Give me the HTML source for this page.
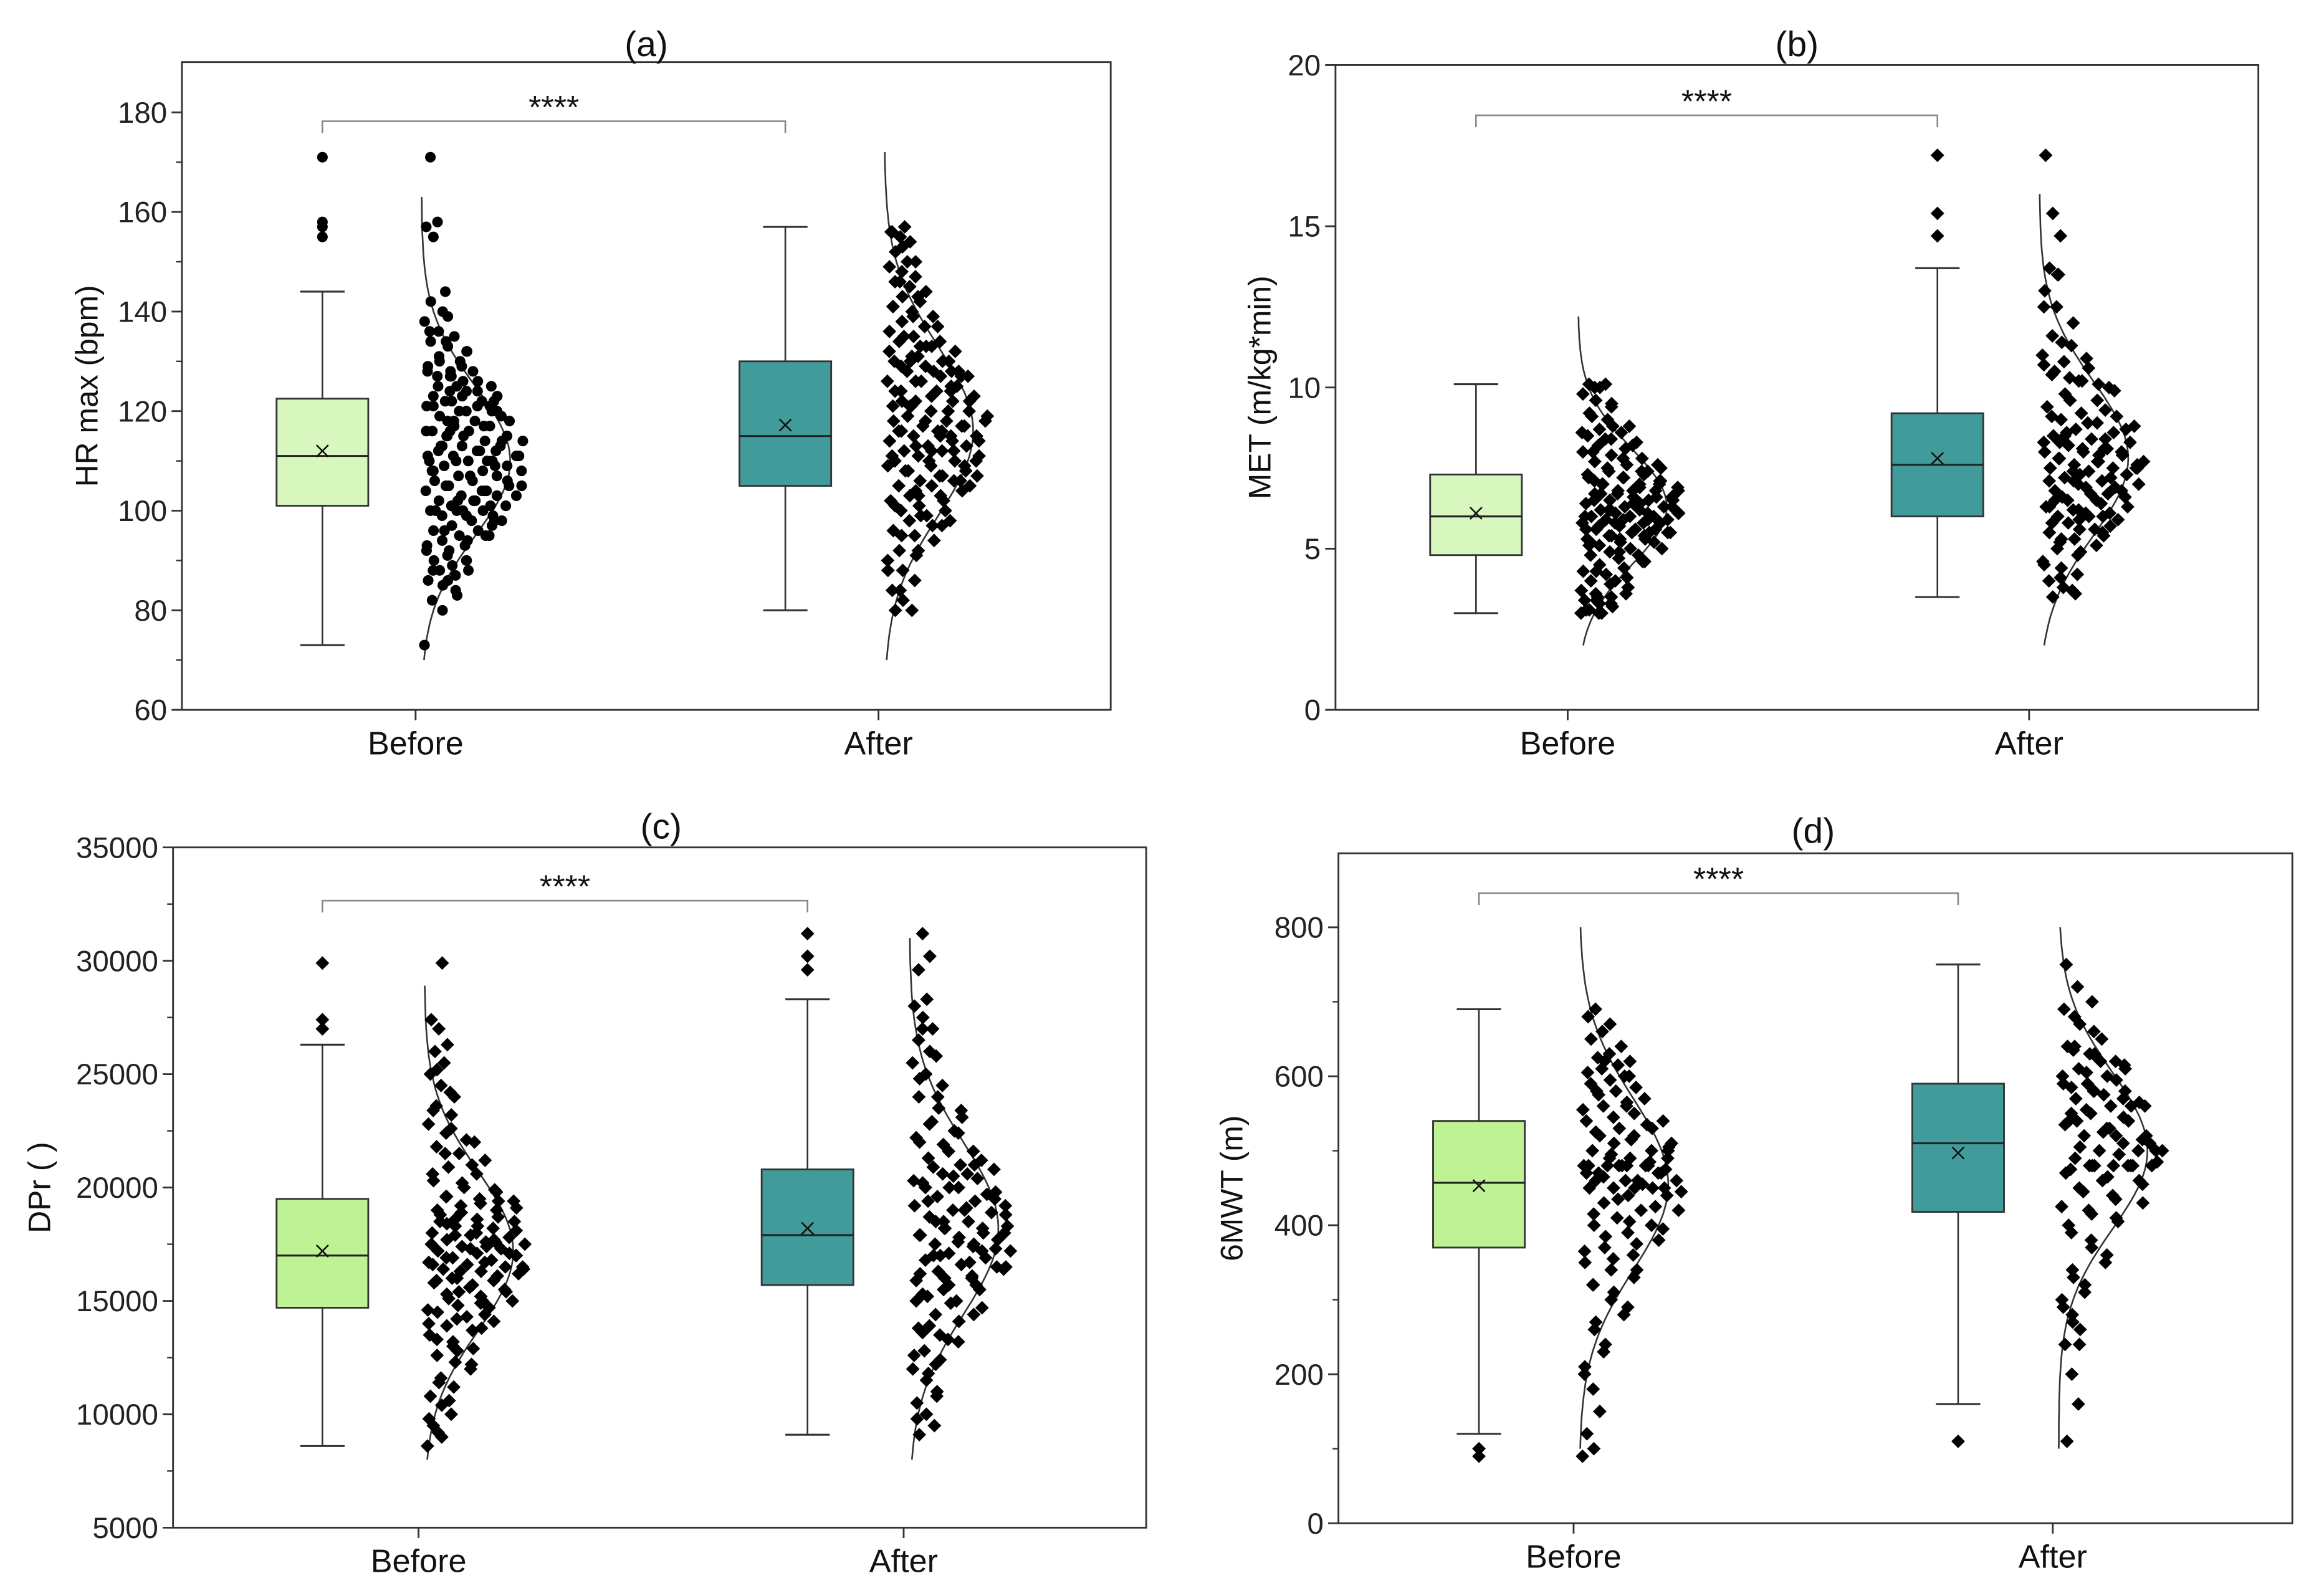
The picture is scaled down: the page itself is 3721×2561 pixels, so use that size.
<!DOCTYPE html>
<html><head><meta charset="utf-8"><style>
html,body{margin:0;padding:0;background:#fff;}
svg{display:block;font-family:"Liberation Sans",Arial,sans-serif;}
</style></head><body>
<svg id="fig" width="3721" height="2561" viewBox="0 0 1568 1079.2" xmlns="http://www.w3.org/2000/svg"></svg>
<script>
// ===== data =====
const categories = ["Before","After"];
// panel (a) HR max
const hrBefore = [73,80,82,84,85,86,87,88,88,89,90,90,91,92,93,94,95,95,96,96,97,98,98,99,99,100,100,100,101,101,102,102,103,103,104,104,105,105,106,106,107,107,108,108,109,109,110,110,110,111,111,112,112,113,113,114,114,115,115,116,116,117,117,118,118,119,120,120,121,121,122,122,123,123,124,124,125,126,127,128,128,129,130,131,132,133,134,135,136,138,140,142,144,155,157,158,171,
 83,86,88,90,92,93,94,96,97,99,100,101,102,103,104,105,106,107,108,109,110,111,112,113,114,115,116,117,118,119,120,121,122,122,123,124,125,126,127,128,129,130,132,134,136,139,100,105,110,115,120,125,108,112,118,95,102,113,121,127,111,104,116,98];
const hrAfter = [80,80,82,84,86,88,90,91,92,94,95,96,97,98,98,99,100,100,101,102,103,103,104,105,105,106,106,107,107,108,108,109,110,110,111,111,112,112,113,113,114,114,115,115,116,116,117,117,118,118,119,120,120,121,122,122,123,124,124,125,126,126,127,128,128,129,130,130,131,132,133,134,134,135,136,137,138,139,140,141,142,143,144,145,146,147,148,149,150,152,154,155,156,157,
 84,88,92,95,97,99,101,102,104,105,107,108,109,110,111,112,113,114,115,116,117,118,119,120,121,122,123,124,125,126,127,128,129,130,131,132,133,135,137,139,141,143,146,150,153,156,106,112,118,124,130,110,116,122,128,103,109,115,121,127,133];
const hrBoxBefore = [73,101,111,122.5,144]; const hrMeanBefore = 112; const hrOutBefore = [155,157,158,171];
const hrBoxAfter = [80,105,115,130,157]; const hrMeanAfter = 117.2; const hrOutAfter = [];
const hrCurve = [[110,15,70,163],[116,17,70,172]]; // mean, sd, from, to
const hrTicks = [60,80,100,120,140,160,180];
// panel (b) MET
const metBefore = [3.0,3.0,3.1,3.2,3.3,3.4,3.5,3.6,3.8,3.9,4.0,4.1,4.2,4.3,4.4,4.5,4.6,4.7,4.8,4.8,4.9,5.0,5.0,5.1,5.2,5.2,5.3,5.4,5.4,5.5,5.5,5.6,5.6,5.7,5.8,5.8,5.9,5.9,6.0,6.0,6.0,6.1,6.1,6.2,6.2,6.3,6.3,6.4,6.5,6.5,6.6,6.6,6.7,6.8,6.8,6.9,7.0,7.0,7.1,7.2,7.2,7.3,7.4,7.5,7.6,7.7,7.8,7.9,8.0,8.1,8.2,8.3,8.4,8.5,8.6,8.7,8.8,9.0,9.2,9.4,9.6,9.8,10.0,10.1,10.1,
 3.0,3.1,3.3,3.5,3.7,4.0,4.3,4.6,4.9,5.1,5.3,5.4,5.5,5.6,5.7,5.8,5.9,6.0,6.1,6.2,6.3,6.4,6.5,6.6,6.7,6.8,6.9,7.0,7.1,7.2,7.3,7.4,7.5,7.6,7.8,8.0,8.2,8.4,8.6,8.8,9.1,9.5,10.0,5.2,5.5,5.8,6.1,6.4,6.7,7.0,5.3,5.6,5.9,6.2,6.5,6.8,7.1,7.4,3.4,3.6];
const metAfter = [3.5,3.6,3.8,4.0,4.2,4.4,4.6,4.8,5.0,5.1,5.3,5.5,5.6,5.8,5.9,6.0,6.0,6.1,6.2,6.3,6.4,6.5,6.6,6.7,6.8,6.9,7.0,7.0,7.1,7.2,7.3,7.4,7.5,7.5,7.6,7.6,7.7,7.8,7.9,8.0,8.0,8.1,8.2,8.3,8.4,8.5,8.6,8.7,8.8,8.9,9.0,9.1,9.2,9.4,9.6,9.8,10.0,10.2,10.4,10.6,10.8,11.0,11.3,11.6,12.0,12.5,13.0,13.5,13.7,14.7,15.4,17.2,
 3.7,4.1,4.5,4.9,5.2,5.4,5.6,5.8,6.0,6.2,6.3,6.5,6.6,6.8,6.9,7.1,7.2,7.4,7.5,7.7,7.8,8.0,8.1,8.3,8.4,8.6,8.7,8.9,9.1,9.3,9.6,9.9,10.2,10.5,10.9,11.4,12.5,13.5,5.3,5.7,6.1,6.5,6.9,7.3,7.7,8.1,8.5,5.5,5.9,6.3,6.7,7.1,7.5,7.9,8.3,10.1,10.3,10.7];
const metBoxBefore = [3.0,4.8,6.0,7.3,10.1]; const metMeanBefore = 6.1; const metOutBefore = [];
const metBoxAfter = [3.5,6.0,7.6,9.2,13.7]; const metMeanAfter = 7.8; const metOutAfter = [14.7,15.4,17.2];
const metCurve = [[6.3,1.8,2,12.2],[7.8,2.4,2,16]];
const metTicks = [0,5,10,15,20];
// panel (c) DPr
const dprBefore = [8600,9000,9500,10000,10400,10800,11200,11600,12000,12300,12600,12900,13200,13500,13700,13900,14100,14300,14500,14700,14800,15000,15200,15300,15500,15600,15800,15900,16000,16200,16300,16400,16500,16600,16700,16800,16900,17000,17100,17200,17300,17400,17500,17600,17700,17800,17900,18000,18200,18300,18500,18600,18800,19000,19200,19400,19500,19600,19800,20000,20300,20600,20900,21200,21500,21800,22100,22400,22800,23200,23600,24000,24500,25000,25500,26000,26300,27000,27400,29900,
 9200,9800,10600,11400,12200,12800,13300,13800,14200,14600,14900,15100,15400,15700,15900,16100,16300,16500,16700,16900,17100,17300,17500,17700,17900,18100,18300,18500,18700,18900,19100,19300,19600,19900,20200,20600,21000,21500,22000,22600,23400,24200,25200,14000,15000,16000,17000,18000,19000,14400,15400,16400,17400,18400,19400,13000,16600,17600,18600];
const dprAfter = [9100,9500,10000,10500,11000,11500,12000,12400,12800,13200,13500,13800,14100,14400,14700,15000,15200,15500,15700,15900,16100,16300,16500,16600,16800,16900,17100,17200,17400,17500,17700,17800,17900,18000,18200,18300,18500,18700,18900,19000,19200,19400,19600,19800,20000,20200,20400,20600,20800,21000,21300,21600,21900,22200,22500,22800,23100,23500,24000,24500,25000,25500,26000,26500,27000,27500,28000,28300,29600,30200,31200,
 9800,10800,11800,12600,13300,13900,14400,14900,15300,15700,16000,16400,16700,17000,17300,17600,17900,18200,18500,18800,19100,19400,19700,20000,20300,20600,20900,21200,21600,22000,22400,22900,23400,24000,24800,25800,27000,15000,16000,17000,18000,19000,20000,21000,15500,16500,17500,18500,19500,20500,16200,17200,18200,19200,12200,13600];
const dprBoxBefore = [8600,14700,17000,19500,26300]; const dprMeanBefore = 17200; const dprOutBefore = [27000,27400,29900];
const dprBoxAfter = [9100,15700,17900,20800,28300]; const dprMeanAfter = 18200; const dprOutAfter = [29600,30200,31200];
const dprCurve = [[17200,3500,8000,28900],[18200,3800,8000,31000]];
const dprTicks = [5000,10000,15000,20000,25000,30000,35000];
// panel (d) 6MWT
const mwtBefore = [90,100,120,150,180,210,240,270,290,310,320,330,340,350,360,370,380,390,400,400,410,420,420,430,440,440,450,450,450,460,460,470,470,480,480,480,480,490,490,500,500,510,510,520,520,530,530,540,550,560,570,580,590,600,610,620,630,650,670,690,
 200,230,260,280,300,320,340,355,365,375,385,395,405,415,425,435,445,455,465,475,480,480,485,495,505,515,525,535,545,555,565,575,585,595,605,615,625,640,660,680,450,460,470,480,490,500,450,460,470,480,540,560,580,600,620];
const mwtAfter = [110,160,200,240,260,280,300,320,340,360,380,400,410,420,430,440,450,460,460,470,480,480,480,480,490,500,500,500,510,520,520,530,540,540,550,560,560,570,580,580,590,600,610,620,630,640,660,680,700,720,750,
 240,270,290,310,330,350,370,390,405,415,425,435,445,455,465,475,480,480,485,495,505,515,525,535,545,555,565,575,585,595,605,615,625,635,650,670,690,480,480,500,520,540,560,580,600,620,640,510,530,550,570,590,610,630];
const mwtBoxBefore = [120,370,457,540,690]; const mwtMeanBefore = 453; const mwtOutBefore = [90,100];
const mwtBoxAfter = [160,418,510,590,750]; const mwtMeanAfter = 497; const mwtOutAfter = [110];
const mwtCurve = [[455,115,100,800],[500,105,100,800]];
const mwtTicks = [0,200,400,600,800];

// ===== layout =====
const NS="http://www.w3.org/2000/svg";
const svg=document.getElementById('fig');
function el(tag,attrs,parent){const e=document.createElementNS(NS,tag);for(const k in attrs)e.setAttribute(k,attrs[k]);(parent||svg).appendChild(e);return e;}

const panels=[
 {id:'a',x0:123,x1:751,y0:42,y1:480,ticks:hrTicks,minor:10,cats:[281,594],boxOff:-63,scOff:4,
  data:[hrBefore,hrAfter],box:[hrBoxBefore,hrBoxAfter],mean:[hrMeanBefore,hrMeanAfter],out:[hrOutBefore,hrOutAfter],curve:hrCurve,
  colors:['#d8f7bf','#429b9b'],markers:['circle','diamond'],title:'(a)',tx:437,ty:38,ylabel:'HR max (bpm)',ylx:66,sig:82},
 {id:'b',x0:903,x1:1527,y0:44,y1:480,ticks:metTicks,minor:0,cats:[1060,1372],boxOff:-62,scOff:7,
  data:[metBefore,metAfter],box:[metBoxBefore,metBoxAfter],mean:[metMeanBefore,metMeanAfter],out:[metOutBefore,metOutAfter],curve:metCurve,
  colors:['#d8f7bf','#429b9b'],markers:['diamond','diamond'],title:'(b)',tx:1215,ty:38,ylabel:'MET (m/kg*min)',ylx:859,sig:78},
 {id:'c',x0:117,x1:775,y0:573,y1:1033,ticks:dprTicks,minor:2500,cats:[283,611],boxOff:-65,scOff:4,
  data:[dprBefore,dprAfter],box:[dprBoxBefore,dprBoxAfter],mean:[dprMeanBefore,dprMeanAfter],out:[dprOutBefore,dprOutAfter],curve:dprCurve,
  colors:['#bff294','#429b9b'],markers:['diamond','diamond'],title:'(c)',tx:447,ty:567,ylabel:'DPr ( )',ylx:34,sig:609},
 {id:'d',x0:905,x1:1550,y0:577,y1:1030,ticks:mwtTicks,minor:100,cats:[1064,1388],boxOff:-64,scOff:4,
  data:[mwtBefore,mwtAfter],box:[mwtBoxBefore,mwtBoxAfter],mean:[mwtMeanBefore,mwtMeanAfter],out:[mwtOutBefore,mwtOutAfter],curve:mwtCurve,
  colors:['#bff294','#429b9b'],markers:['diamond','diamond'],title:'(d)',tx:1226,ty:570,ylabel:'6MWT (m)',ylx:840,sig:604}
];
const vmins={a:60,b:0,c:5000,d:0};

function marker(g,type,x,y){
  let m;
  if(type==='circle'){m=el('circle',{cx:x.toFixed(1),cy:y.toFixed(1),r:3.6,fill:'#000'},g);}
  else{m=el('path',{d:`M${(x).toFixed(1)} ${(y-4.6).toFixed(1)}l4.6 4.6l-4.6 4.6l-4.6 -4.6z`,fill:'#000'},g);}
  
  
}

panels.forEach(p=>{
  const g=el('g',{});
  
  
  const vmin=vmins[p.id];
  let vTop;
  if(p.id==='a') vTop=60+(480-42)*120/(480-76);
  else if(p.id==='b') vTop=20;
  else if(p.id==='c') vTop=35000;
  else vTop=800*(1030-577)/(1030-627);
  const Y=v=>p.y1-(v-vmin)/(vTop-vmin)*(p.y1-p.y0);
  const fr=el('rect',{x:p.x0,y:p.y0,width:p.x1-p.x0,height:p.y1-p.y0,fill:'none',stroke:'#333','stroke-width':1.2},g);
  
  
  const yt=el('g',{},g);
  
  
  p.ticks.forEach(t=>{
    const y=Y(t);
    el('line',{x1:p.x0-7,x2:p.x0,y1:y,y2:y,stroke:'#333','stroke-width':1.2},yt);
    const tx=el('text',{x:p.x0-10,y:y+7,'text-anchor':'end','font-size':20,fill:'#222'},yt);
    tx.textContent=t;
    
    
  });
  if(p.minor){
    for(let v=p.ticks[0]+p.minor; v<p.ticks[p.ticks.length-1]; v+=2*p.minor){
      const y=Y(v); el('line',{x1:p.x0-4,x2:p.x0,y1:y,y2:y,stroke:'#333','stroke-width':1},yt);
    }
  }
  p.cats.forEach((cx,i)=>{
    el('line',{x1:cx,x2:cx,y1:p.y1,y2:p.y1+7,stroke:'#333','stroke-width':1.2},g);
    const t=el('text',{x:cx,y:p.y1+30,'text-anchor':'middle','font-size':22,fill:'#111'},g);
    t.textContent=categories[i];
    
    
  });
  const ti=el('text',{x:p.tx,y:p.ty,'text-anchor':'middle','font-size':24,fill:'#111'},g);
  ti.textContent=p.title;
  
  
  const cy=(p.y0+p.y1)/2;
  const yl=el('text',{x:p.ylx,y:cy,'text-anchor':'middle','font-size':21,fill:'#111',transform:`rotate(-90 ${p.ylx} ${cy})`},g);
  yl.textContent=p.ylabel;
  
  
  for(let i=0;i<2;i++){
    const bx=p.cats[i]+p.boxOff, bw=62, b=p.box[i];
    const bg=el('g',{},g);
    
    
    el('line',{x1:bx,x2:bx,y1:Y(b[0]),y2:Y(b[1]),stroke:'#333','stroke-width':1.1},bg);
    el('line',{x1:bx,x2:bx,y1:Y(b[3]),y2:Y(b[4]),stroke:'#333','stroke-width':1.1},bg);
    el('line',{x1:bx-15,x2:bx+15,y1:Y(b[0]),y2:Y(b[0]),stroke:'#333','stroke-width':1.3},bg);
    el('line',{x1:bx-15,x2:bx+15,y1:Y(b[4]),y2:Y(b[4]),stroke:'#333','stroke-width':1.3},bg);
    el('rect',{x:bx-bw/2,y:Y(b[3]),width:bw,height:Y(b[1])-Y(b[3]),fill:p.colors[i],stroke:'#333','stroke-width':1.2},bg);
    el('line',{x1:bx-bw/2,x2:bx+bw/2,y1:Y(b[2]),y2:Y(b[2]),stroke:'#222','stroke-width':1.3},bg);
    const my=Y(p.mean[i]);
    el('path',{d:`M${bx-4} ${my-4}L${bx+4} ${my+4}M${bx-4} ${my+4}L${bx+4} ${my-4}`,stroke:'#111','stroke-width':1.1},bg);
    p.out[i].forEach(v=>marker(bg,p.markers[i],bx,Y(v)));
    const base=p.cats[i]+p.scOff, W=60, c=p.curve[i];
    let d='';
    for(let k=0;k<=80;k++){const v=c[2]+(c[3]-c[2])*k/80;const x=base+W*Math.exp(-0.5*((v-c[0])/c[1])**2);d+=(k?'L':'M')+x.toFixed(1)+' '+Y(v).toFixed(1);}
    const cu=el('path',{d:d,fill:'none',stroke:'#333','stroke-width':1.1},g);
    
    
    const sg=el('g',{},g);
    
    
    p.data[i].forEach((v,j)=>{
      const f=((j*0.618034+i*0.3)%1);
      const dens=Math.exp(-0.5*((v-c[0])/c[1])**2);
      const x=base+2+(12+W*dens*0.95)*f;
      marker(sg,p.markers[i],x,Y(v));
    });
  }
  const xa=p.cats[0]+p.boxOff, xb=p.cats[1]+p.boxOff, sy=p.sig;
  const br=el('path',{d:`M${xa} ${sy+8}V${sy}H${xb}V${sy+8}`,fill:'none',stroke:'#888','stroke-width':1.1},g);
  
  
  const st=el('text',{x:(xa+xb)/2,y:sy-2,'text-anchor':'middle','font-size':22,fill:'#111'},g);
  st.textContent='****';
  
  
});
</script>
</body></html>
